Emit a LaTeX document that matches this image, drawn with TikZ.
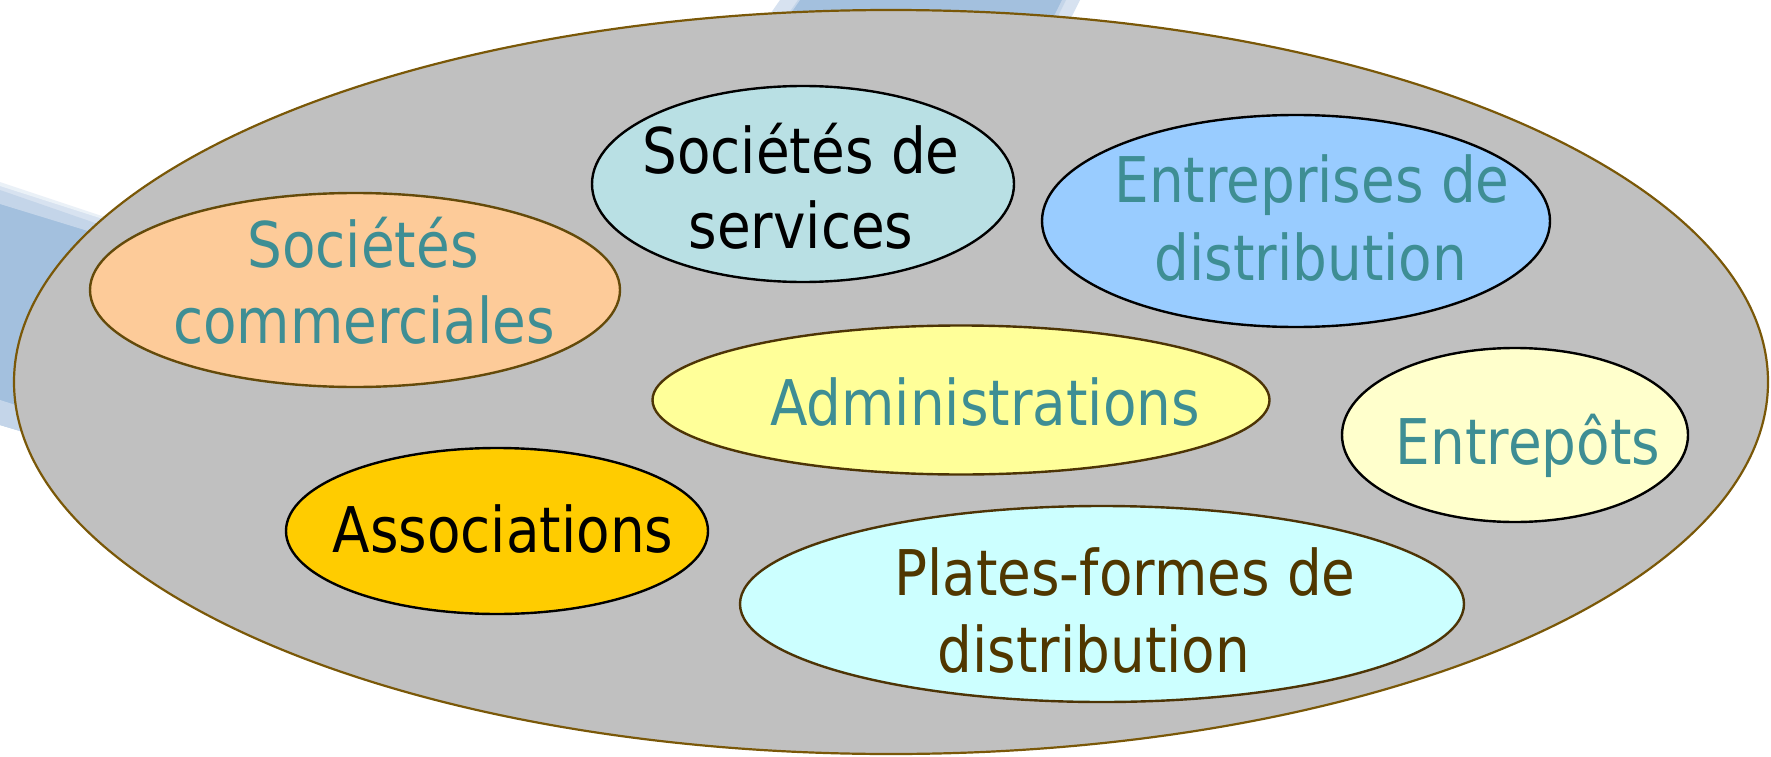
\documentclass[tikz,border=0pt]{standalone}
\usepackage{fontspec}
\setmainfont{DejaVu Sans}[FakeStretch=0.87]
\usetikzlibrary{shapes.geometric}

\definecolor{bandblue}{RGB}{163,192,222}
\definecolor{bandlight}{RGB}{205,219,236}
\definecolor{worldfill}{RGB}{192,192,192}
\definecolor{worldline}{RGB}{122,88,8}
\definecolor{oliveline}{RGB}{100,74,10}
\definecolor{darkline}{RGB}{77,52,5}
\definecolor{peach}{RGB}{253,203,153}
\definecolor{paleteal}{RGB}{185,224,228}
\definecolor{skyblue}{RGB}{153,204,255}
\definecolor{paleyellow}{RGB}{255,255,153}
\definecolor{cream}{RGB}{255,255,204}
\definecolor{gold}{RGB}{255,204,0}
\definecolor{palecyan}{RGB}{204,255,255}
\definecolor{tealtext}{RGB}{62,142,148}
\definecolor{browntext}{RGB}{80,55,0}

\begin{document}
\begin{tikzpicture}[x=1pt,y=-1pt,
  blob/.style={ellipse, draw=black, line width=2.4pt, inner sep=0pt, outer sep=0pt},
  lbl/.style={anchor=base, inner sep=0pt, outer sep=0pt,
              font=\fontsize{63}{76}\selectfont},
  teal/.style={lbl, text=tealtext},
  dark/.style={lbl, text=black},
  brown/.style={lbl, text=browntext}]
\useasboundingbox (0,0) rectangle (1771,757);

% decorative swooshes of the slide background
\fill[bandblue] (0,190) -- (150,242) -- (150,470) -- (0,425) -- cycle;
\fill[bandlight, opacity=0.8] (0,182) -- (150,232) -- (150,250) -- (0,204) -- cycle;
\fill[white, opacity=0.5] (0,176) -- (150,226) -- (150,234) -- (0,186) -- cycle;
\fill[bandlight, opacity=0.8] (0,400) -- (150,448) -- (150,470) -- (0,425) -- cycle;
\fill[bandblue] (798,0) -- (1066,0) -- (1046,40) -- (770,40) -- cycle;
\fill[bandlight, opacity=0.8] (780,0) -- (800,0) -- (772,40) -- (752,40) -- cycle;
\fill[bandlight, opacity=0.8] (1062,0) -- (1080,0) -- (1060,40) -- (1042,40) -- cycle;

% the enclosing set
\node[blob, fill=worldfill, draw=worldline, line width=2.2pt,
      minimum width=1754pt, minimum height=744pt] (world) at (891,382) {};

% the members
\node[blob, fill=peach, draw=oliveline, minimum width=530pt, minimum height=194pt] (com) at (355,290) {};
\node[teal] (com1) at (363,267) {Sociétés};
\node[teal] (com2) at (364,343) {commerciales};

\node[blob, fill=paleteal, minimum width=422pt, minimum height=196pt] (serv) at (803,184) {};
\node[dark] (serv1) at (801,173) {Sociétés de};
\node[dark] (serv2) at (801,248) {services};

\node[blob, fill=skyblue, minimum width=508pt, minimum height=212pt] (entr) at (1296,221) {};
\node[teal] (entr1) at (1312,202) {Entreprises de};
\node[teal] (entr2) at (1311,280) {distribution};

\node[blob, fill=paleyellow, draw=darkline, minimum width=617pt, minimum height=149pt] (adm) at (961,400) {};
\node[teal] (adm1) at (985,425) {Administrations};

\node[blob, fill=cream, minimum width=346pt, minimum height=174pt] (entp) at (1515,435) {};
\node[teal] (entp1) at (1528,464) {Entrepôts};

\node[blob, fill=gold, minimum width=422pt, minimum height=166pt] (asso) at (497,531) {};
\node[dark] (asso1) at (503,552) {Associations};

\node[blob, fill=palecyan, draw=darkline, minimum width=724pt, minimum height=196pt] (plat) at (1102,604) {};
\node[brown] (plat1) at (1125,595) {Plates-formes de};
\node[brown] (plat2) at (1094,672) {distribution};
\end{tikzpicture}
\end{document}
